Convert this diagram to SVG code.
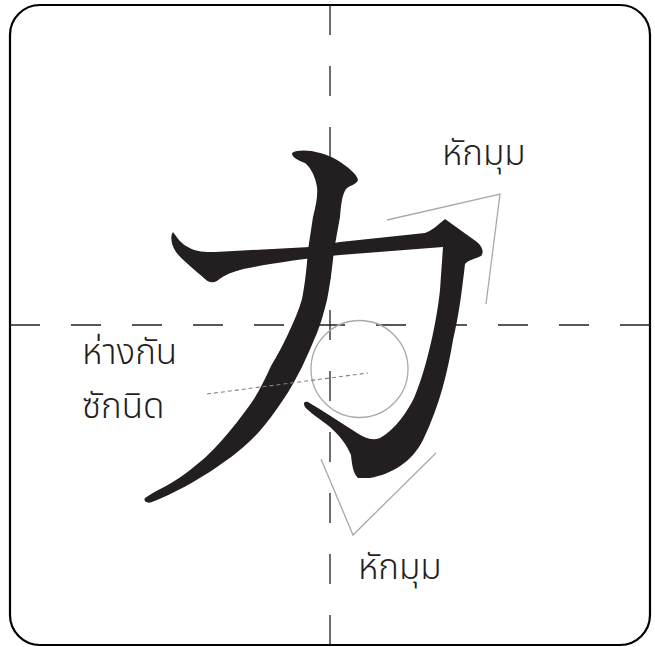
<svg xmlns="http://www.w3.org/2000/svg" width="655" height="647" viewBox="0 0 655 647">
<style>
.frame{fill:#fff;stroke:#000;stroke-width:2.2}
.axis{stroke:#231f20;stroke-width:1.3;stroke-dasharray:30 31;fill:none}
.ink{fill:#231f20}
.guide{fill:none;stroke:#a7a9ac;stroke-width:1.3}
.dots{fill:none;stroke:#808285;stroke-width:1.1;stroke-dasharray:4 3}
.lbl{font-family:"Noto Sans Thai","Noto Sans Thai UI","Noto Sans","DejaVu Sans",sans-serif;font-size:35px;font-weight:300;fill:#231f20}
</style>
<rect class="frame" x="10" y="5" width="640" height="640" rx="30" ry="30"/>
<g id="axes">
<line class="axis" x1="330" y1="5" x2="330" y2="645"/>
<line class="axis" x1="10" y1="325" x2="650" y2="325"/>
</g>
<g id="character">
<path id="stroke-hook" class="ink" d="M173,232 C176,236 181,244 188,247 C196,252 205,252 215,252 L310,247 L340,242 L425,233 C431,231 437,226 445,219 L477,242 C483,247 484,253 481,256 C475,259 468,260 465,264 C462,290 459,315 453,340 C448,370 440,405 423,440 C412,462 392,474 370,478 L358,478 C353,473 352,465 351,455 C346,443 338,434 330,427 C320,419 309,412 305,407 C303,403 304,401 308,402 C320,409 340,422 357,433 C365,438 372,441 380,438 C395,430 407,412 414,398 C427,368 437,320 440,290 L443,247 L340,255 C300,259 260,265 240,270 C228,273 222,277 217,281 C213,283 209,283 205,279 C195,270 182,260 176,252 C171,245 170,236 173,232 Z"/>
<path id="stroke-pie" class="ink" d="M292,153 C300,148 322,151 337,160 C348,167 357,174 358,180 C356,185 350,185 346,189 C342,195 341,205 340,217 L334,250 C332,270 330,285 327,300 C324,312 321,323 317,333 C312,345 307,356 302,367 C296,378 290,390 283,400 C275,412 267,423 258,433 C245,447 231,458 217,467 C198,480 173,494 152,502 C147,504 143,501 145,498 C152,493 160,489 166,486 C178,479 187,473 195,466 C208,456 219,444 229,432 C239,420 247,409 254,399 C260,389 266,377 271,366 C278,354 284,343 289,332 C294,321 299,310 302,299 C305,285 307,265 308,250 L313,217 C316,205 318,195 317,187 C315,176 311,168 305,163 C298,160 292,158 292,153 Z"/>
</g>
<g id="guides">
<polyline class="guide" points="387,220 500,194 486,304"/>
<polyline class="guide" points="321,459 353,535 436,453"/>
<circle class="guide" cx="359.5" cy="369" r="48.5"/>
<line class="dots" x1="207" y1="394" x2="368" y2="373"/>
</g>
<g id="labels">
<text class="lbl" x="442" y="165">หักมุม</text>
<text class="lbl" x="82" y="364">ห่างกัน</text>
<text class="lbl" x="82" y="418">ซักนิด</text>
<text class="lbl" x="358" y="579">หักมุม</text>
</g>
</svg>
